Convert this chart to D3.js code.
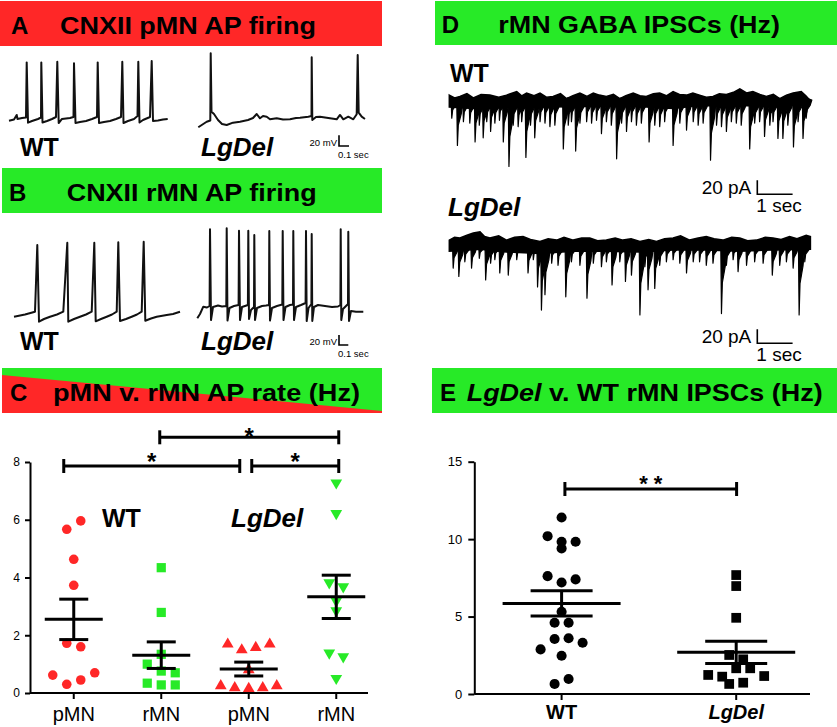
<!DOCTYPE html>
<html>
<head>
<meta charset="utf-8">
<script src="https://cdn.jsdelivr.net/npm/d3@7"></script>
<style>
  body { margin: 0; background: #fff; }
  svg { display: block; font-family: "Liberation Sans", Arial, sans-serif; }
</style>
</head>
<body>
<div id="fig"></div>
<script>
// ---- panel titles
const titleA = "CNXII pMN AP firing"
const titleB = "CNXII rMN AP firing"
const titleC = "pMN v. rMN AP rate (Hz)"
const titleD = "rMN GABA IPSCs (Hz)"
const titleE = " v. WT rMN IPSCs (Hz)"

// ---- A: pMN membrane potential traces [ms, mV]
const aWT = [[0,-60],[50,-57.8],[77,-49.3],[85,-56.8],[130,-55],[170,-54],[177,49],[190,-63.7],[230,-60.6],[290,-56.8],[320,-54],[323,49],[335,-63.4],[380,-60.6],[430,-56.8],[470,-53.1],[483,50.3],[497,-64.3],[530,-56.8],[570,-55.9],[610,-55],[645,-53.1],[650,47.3],[665,-64.3],[710,-62.4],[770,-60.6],[830,-56.8],[880,-53.1],[887,49],[900,-64.3],[950,-62.4],[1010,-60.6],[1070,-56.8],[1120,-53.1],[1133,50.3],[1145,-64.3],[1190,-60.6],[1250,-56.8],[1285,-51.2],[1293,50.3],[1305,-63.4],[1340,-58.7],[1410,-53.1],[1427,51.6],[1440,-60.6],[1490,-59.6],[1540,-57.8],[1587,-56.8]]
const aLgDel = [[0,-72.3],[84,-61.9],[120,-59.6],[124,66],[132,-43.2],[157,-47.5],[197,-58.7],[237,-66.2],[284,-68],[347,-63.7],[417,-61.9],[497,-58.7],[547,-55],[584,-47.5],[617,-55.5],[647,-51.2],[684,-52.5],[717,-57.4],[784,-55.5],[847,-57.8],[917,-57.4],[977,-55],[1017,-54.4],[1100,-52.5],[1132,-51.2],[1134,58.6],[1140,-58.7],[1177,-53.1],[1217,-52.5],[1317,-55.5],[1384,-57.4],[1417,-49.3],[1450,-57.4],[1500,-52.5],[1550,-57.4],[1584,-48],[1594,62.9],[1604,-45],[1634,-52.5],[1667,-56.8]]

// ---- B: rMN membrane potential traces [ms, mV]
const bWT = [[0,-65],[110,-60.6],[210,-55],[233,78.4],[250,-75],[300,-69.6],[360,-65],[430,-60.6],[493,-55],[533,83],[543,-75],[600,-69.6],[660,-65],[720,-60.6],[777,-55],[803,83],[817,-74.2],[870,-69.6],[927,-65],[980,-60.6],[1027,-55],[1043,83.8],[1060,-73.6],[1120,-69.6],[1177,-65],[1230,-60.6],[1277,-55],[1297,85],[1313,-73],[1370,-68.6],[1427,-65],[1527,-61.6],[1590,-59.6],[1660,-55]]
const bLgDel = [[0,-68.2],[27,-59.6],[60,-45],[97,-46.6],[123,-43.6],[127,109.8],[137,-71.6],[157,-45.6],[207,-42.6],[247,-44.6],[290,-43.6],[294,111.8],[302,-72.6],[322,-47.6],[367,-43.6],[413,-41.6],[417,107],[427,-71.6],[447,-45.6],[506,-41.6],[510,107],[517,-69.6],[537,-51.6],[567,-45.6],[570,98.4],[577,-71.6],[597,-47.6],[647,-43.6],[687,-42.6],[717,-41.6],[720,106.4],[727,-72.6],[747,-47.6],[797,-43.6],[850,-40.6],[854,106.4],[862,-71.6],[882,-45.6],[927,-41.6],[957,-40.6],[960,106.4],[967,-71.6],[987,-45.6],[1037,-41.6],[1083,-37.6],[1087,106.4],[1094,-73.6],[1112,-47.6],[1141,-39.6],[1144,100.4],[1150,-73.6],[1167,-45.6],[1207,-41.6],[1277,-43.6],[1347,-45.6],[1407,-44.6],[1431,-41.6],[1434,109.8],[1440,-71.6],[1457,-49.6],[1507,-39.6],[1510,105],[1517,-73.6],[1537,-53.4],[1587,-55],[1660,-55]]

// ---- D: IPSC recordings, noise band envelope [s, pA] and events [s, peak pA]
const dWtTop = [[0,7],[0.15,3],[0.30,5],[0.50,9],[0.68,3],[0.90,8],[1.15,7],[1.40,4],[1.62,7],[1.91,12],[2.05,6],[2.19,10],[2.40,6],[2.57,10],[2.75,4],[2.94,5],[3.15,9],[3.32,2],[3.50,6],[3.70,10],[3.90,5],[4.08,10],[4.25,7],[4.45,5],[4.65,8],[4.83,2],[5.00,6],[5.21,10],[5.40,6],[5.58,5],[5.78,9],[5.96,10],[6.15,6],[6.34,12],[6.52,8],[6.72,7],[6.90,10],[7.09,7],[7.28,4],[7.47,5],[7.65,9],[7.85,8],[8.05,11],[8.23,16],[8.42,10],[8.60,12],[8.80,8],[8.98,5],[9.18,8],[9.36,2],[9.55,7],[9.74,10],[9.97,12],[10.10,6],[10.21,0]]
const dWtBottom = [[0,-10],[0.68,-12],[1.62,-11],[2.57,-9],[3.32,-10],[4.08,-9],[4.83,-8],[5.58,-10],[6.34,-12],[7.09,-8],[7.85,-9],[8.60,-8],[9.36,-9],[10.21,-6]]
const dWtEvents = [[0.07,-26],[0.23,-65],[0.40,-31],[0.58,-33],[0.73,-60],[0.85,-36],[0.96,-54],[1.06,-31],[1.17,-45],[1.29,-33],[1.42,-29],[1.53,-60],[1.69,-95],[1.81,-36],[1.95,-38],[2.05,-31],[2.17,-82],[2.30,-36],[2.42,-54],[2.57,-31],[2.71,-33],[2.85,-38],[2.99,-36],[3.23,-70],[3.37,-36],[3.46,-31],[3.58,-73],[3.70,-33],[3.89,-31],[4.03,-33],[4.17,-29],[4.31,-48],[4.45,-31],[4.59,-36],[4.74,-84],[4.88,-33],[5.02,-45],[5.16,-31],[5.30,-36],[5.44,-33],[5.66,-60],[5.82,-36],[5.96,-38],[6.10,-31],[6.34,-65],[6.53,-33],[6.72,-43],[6.91,-31],[7.05,-36],[7.19,-33],[7.40,-86],[7.57,-36],[7.71,-38],[7.85,-45],[7.99,-31],[8.13,-33],[8.27,-36],[8.51,-70],[8.65,-33],[8.79,-31],[8.93,-52],[9.08,-36],[9.17,-31],[9.31,-55],[9.45,-55],[9.59,-36],[9.75,-67],[9.88,-31],[10.02,-55],[10.11,-26]]
const dLgTop = [[0,7],[0.15,11],[0.30,10],[0.50,14],[0.68,17],[0.87,19],[1.00,12],[1.15,10],[1.40,13],[1.62,7],[1.85,11],[2.09,12],[2.30,8],[2.57,5],[2.80,9],[3.04,7],[3.25,11],[3.51,7],[3.75,10],[3.98,10],[4.20,6],[4.45,7],[4.70,10],[4.92,7],[5.15,9],[5.40,5],[5.65,8],[5.87,5],[6.10,9],[6.34,10],[6.55,13],[6.81,7],[7.05,10],[7.28,12],[7.50,9],[7.75,7],[8.00,11],[8.23,10],[8.45,6],[8.70,7],[8.95,11],[9.17,10],[9.40,8],[9.64,12],[9.85,9],[10.11,14],[10.23,12]]
const dLgBottom = [[0,-9],[0.87,-6],[1.62,-10],[2.57,-12],[3.51,-9],[4.45,-9],[5.40,-10],[6.34,-7],[7.28,-7],[8.23,-9],[9.17,-7],[10.23,-6]]
const dLgEvents = [[0.11,-33],[0.27,-45],[0.44,-24],[0.63,-33],[0.85,-19],[1.03,-50],[1.17,-26],[1.29,-21],[1.43,-40],[1.67,-43],[1.91,-21],[2.23,-40],[2.38,-21],[2.50,-60],[2.61,-93],[2.71,-71],[2.90,-26],[3.08,-29],[3.30,-74],[3.46,-24],[3.70,-29],[3.90,-76],[4.08,-26],[4.31,-31],[4.45,-24],[4.61,-57],[4.83,-24],[4.99,-52],[5.16,-43],[5.40,-100],[5.54,-31],[5.63,-64],[5.82,-62],[5.96,-29],[6.15,-24],[6.34,-21],[6.53,-26],[6.72,-40],[6.91,-24],[7.09,-24],[7.28,-29],[7.47,-26],[7.71,-98],[7.85,-29],[8.04,-21],[8.18,-38],[8.42,-29],[8.65,-24],[8.89,-26],[9.15,-43],[9.36,-29],[9.55,-24],[9.74,-33],[9.91,-100],[10.07,-24]]

// ---- C: AP rate (Hz)
const cLabels = ["pMN", "rMN", "pMN", "rMN"]
const cWtPmn = [5.67, 5.96, 4.63, 3.73, 1.72, 1.60, 0.62, 0.30, 0.45, 0.70]
const cWtRmn = [4.34, 2.79, 1.34, 1.00, 0.76, 0.70, 0.34, 0.28, 0.28]
const cLgPmn = [1.69, 1.49, 1.57, 1.69, 0.80, 0.25, 0.18, 0.15, 0.18, 0.25]
const cLgRmn = [7.28, 6.22, 3.82, 3.68, 2.85, 3.19, 1.39, 1.26, 0.51]
const cMeans = [2.55, 1.31, 0.83, 3.33]
const cSem = [0.70, 0.46, 0.24, 0.75]
const cTicks = [0, 2, 4, 6, 8]

// ---- E: IPSC frequency (Hz)
const eLabels = ["WT", "LgDel"]
const eWT = [11.4, 10.19, 9.83, 9.4, 9.83, 7.61, 7.2, 7.4, 4.6, 4.6, 5.31, 2.88, 3.55, 3.6, 3.31, 2.47, 0.65, 0.97]
const eLgDel = [7.68, 6.97, 4.92, 2.52, 2.24, 1.23, 1.12, 1.66, 1.66, 1.16, 0.65, 0.73]
const eMeans = [5.85, 2.69]
const eSem = [0.81, 0.72]
const eTicks = [0, 5, 10, 15]

const RED = "#ff2727"
const GREEN = "#27ea27"
const FONT = '"Liberation Sans", Arial, sans-serif'

const svg = d3.select("#fig").append("svg")
    .attr("width", 837)
    .attr("height", 727)

// ---------- headers
function header(x, y, w, h, fill, letter, letterX, titleX, titleW, parts) {
    const g = svg.append("g")
    if (fill === "split") {
        g.append("rect").attr("x", x).attr("y", y).attr("width", w).attr("height", h).attr("fill", GREEN)
        g.append("path")
            .attr("d", `M${x},${y + 7} L${x + w},${y + h - 2} L${x + w},${y + h} L${x},${y + h} Z`)
            .attr("fill", RED)
    } else {
        g.append("rect").attr("x", x).attr("y", y).attr("width", w).attr("height", h).attr("fill", fill)
    }
    const base = y + h - 12
    g.append("text").attr("x", letterX).attr("y", base)
        .attr("font-size", 24).attr("font-weight", "bold").text(letter)
    const t = g.append("text").attr("x", titleX).attr("y", base)
        .attr("font-size", 24).attr("font-weight", "bold")
        .attr("textLength", titleW).attr("lengthAdjust", "spacingAndGlyphs")
    parts.forEach(p => {
        t.append("tspan").attr("font-style", p.italic ? "italic" : "normal").text(p.text)
    })
}

header(0, 1, 382, 45, RED, "A", 11, 60, 256, [{ text: titleA }])
header(2, 168, 380, 45, GREEN, "B", 9, 66.7, 250, [{ text: titleB }])
header(2, 368, 380, 45, "split", "C", 10, 53, 307, [{ text: titleC }])
header(435, 1, 402, 44, GREEN, "D", 441.7, 498.3, 281.7, [{ text: titleD }])
header(432, 368, 405, 45, GREEN, "E", 440, 466.7, 356, [{ text: "LgDel", italic: true }, { text: titleE }])

// ---------- labels
function label(x, y, txt, size, italic) {
    svg.append("text").attr("x", x).attr("y", y)
        .attr("font-size", size).attr("font-weight", "bold")
        .attr("font-style", italic ? "italic" : "normal").text(txt)
}
label(20, 156, "WT", 25)
label(201, 156, "LgDel", 26, true)
label(20, 350, "WT", 25)
label(201, 350, "LgDel", 26, true)
label(450, 82, "WT", 25)
label(448, 216, "LgDel", 26, true)
label(102, 527, "WT", 25)
label(231, 527, "LgDel", 26, true)

// ---------- AP traces (A, B)
const lineGen = (xs, ys) => d3.line().x(d => xs(d[0])).y(d => ys(d[1]))

function apTrace(data, ox, oy, xs, ys) {
    svg.append("path")
        .attr("transform", `translate(${ox},${oy})`)
        .attr("d", lineGen(xs, ys)(data))
        .attr("fill", "none").attr("stroke", "#111").attr("stroke-width", 2)
        .attr("stroke-linejoin", "round")
}

function vScaleBar(bx, by, xs, ys, vLen, vUnit, tLen, tUnit, size, gapBelow) {
    const h = Math.abs(ys(0) - ys(vLen))
    const w = xs(tLen) - xs(0)
    svg.append("path")
        .attr("d", `M${bx},${by - h} L${bx},${by} L${bx + w},${by}`)
        .attr("fill", "none").attr("stroke", "#000").attr("stroke-width", 1.6)
    svg.append("text").attr("x", bx - 2).attr("y", by).attr("text-anchor", "end")
        .attr("font-size", size).text(vUnit)
    svg.append("text").attr("x", bx - 1).attr("y", by + gapBelow)
        .attr("font-size", size).text(tUnit)
}

const xA = d3.scaleLinear().domain([0, 1000]).range([0, 100])
const yA = d3.scaleLinear().domain([-60, 40]).range([0, -53.5])
apTrace(aWT, 9, 120.7, xA, yA)
apTrace(aLgDel, 198.3, 120.7, xA, yA)
vScaleBar(339, 146, d3.scaleLinear().domain([0, 1]).range([0, 100]), yA, 20, "20 mV", 0.1, "0.1 sec", 9.5, 11.5)

const xB = d3.scaleLinear().domain([0, 1000]).range([0, 100])
const yB = d3.scaleLinear().domain([-65, 35]).range([0, -50])
apTrace(bWT, 14, 316.7, xB, yB)
apTrace(bLgDel, 197.3, 316.7, xB, yB)
vScaleBar(339, 345, d3.scaleLinear().domain([0, 1]).range([0, 93]), yB, 20, "20 mV", 0.1, "0.1 sec", 9.5, 11.5)

// ---------- IPSC traces (D)
const xD = d3.scaleLinear().domain([0, 10]).range([0, 353])
const yD = d3.scaleLinear().domain([0, -20]).range([0, 14])

function ipscTrace(top, bottom, events, ox, oy) {
    const g = svg.append("g").attr("transform", `translate(${ox},${oy})`)
    const band = top.concat(bottom.slice().reverse())
    g.append("path")
        .attr("d", lineGen(xD, yD)(band) + "Z")
        .attr("fill", "#000").attr("stroke", "#000").attr("stroke-width", 1.5)
        .attr("stroke-linejoin", "miter")
    // each event: fast drop to its peak, then a decaying tail back to the band
    g.selectAll("path.ev").data(events).join("path")
        .attr("class", "ev")
        .attr("d", d => `M${xD(d[0] - 0.02)},${yD(3)} L${xD(d[0])},${yD(d[1])} ` +
            `L${xD(d[0] + 0.025)},${yD(d[1] * 0.55)} L${xD(d[0] + 0.11)},${yD(d[1] * 0.3)} ` +
            `L${xD(d[0] + 0.16)},${yD(0)} Z`)
        .attr("fill", "#000").attr("stroke", "#000").attr("stroke-width", 1.2)
        .attr("stroke-linejoin", "round")
}
ipscTrace(dWtTop, dWtBottom, dWtEvents, 449.3, 100)
ipscTrace(dLgTop, dLgBottom, dLgEvents, 449.3, 245)

function pScaleBar(bx, by) {
    const h = yD(-20) - yD(0)
    const w = xD(1) - xD(0)
    svg.append("path")
        .attr("d", `M${bx},${by - h} L${bx},${by} L${bx + w},${by}`)
        .attr("fill", "none").attr("stroke", "#000").attr("stroke-width", 1.6)
    svg.append("text").attr("x", bx - 6).attr("y", by).attr("text-anchor", "end")
        .attr("font-size", 19).text("20 pA")
    svg.append("text").attr("x", bx - 1).attr("y", by + 17.5)
        .attr("font-size", 19).text("1 sec")
}
pScaleBar(757.3, 194.3)
pScaleBar(757.3, 343.3)

// ---------- scatter helpers
function swarmOffsets(values, ys, spacing) {
    const order = values.map((v, i) => i).sort((a, b) => values[b] - values[a] || a - b)
    const clusters = []
    let cur = null, prevY = 0, firstY = 0
    order.forEach(i => {
        const py = ys(values[i])
        if (!cur || py - prevY > 9 || py - firstY > 12) {
            cur = []
            clusters.push(cur)
            firstY = py
        }
        cur.push(i)
        prevY = py
    })
    const off = new Array(values.length)
    clusters.forEach(c => {
        c.sort((a, b) => a - b)
        c.forEach((i, k) => { off[i] = (k - (c.length - 1) / 2) * spacing })
    })
    return off
}

function drawGroup(g, values, cx, ys, sym, size, color, rotate) {
    const off = swarmOffsets(values, ys, 14)
    g.selectAll(null).data(values).join("path")
        .attr("d", d3.symbol().type(sym).size(size)())
        .attr("transform", (d, i) => `translate(${cx + off[i]},${ys(d)})` + (rotate ? " rotate(180)" : ""))
        .attr("fill", color)
}

function drawMean(g, cx, ys, mean, sem, halfW, capW) {
    const st = l => l.attr("stroke", "#000").attr("stroke-width", 3)
    st(g.append("line").attr("x1", cx - halfW).attr("x2", cx + halfW).attr("y1", ys(mean)).attr("y2", ys(mean)))
    st(g.append("line").attr("x1", cx - capW).attr("x2", cx + capW).attr("y1", ys(mean + sem)).attr("y2", ys(mean + sem)))
    st(g.append("line").attr("x1", cx - capW).attr("x2", cx + capW).attr("y1", ys(mean - sem)).attr("y2", ys(mean - sem)))
    st(g.append("line").attr("x1", cx).attr("x2", cx).attr("y1", ys(mean + sem)).attr("y2", ys(mean - sem)))
}

function sigBar(x1, x2, y, text, size, textY) {
    const st = l => l.attr("stroke", "#000").attr("stroke-width", 3)
    st(svg.append("line").attr("x1", x1).attr("x2", x2).attr("y1", y).attr("y2", y))
    st(svg.append("line").attr("x1", x1).attr("x2", x1).attr("y1", y - 7).attr("y2", y + 7))
    st(svg.append("line").attr("x1", x2).attr("x2", x2).attr("y1", y - 7).attr("y2", y + 7))
    svg.append("text").attr("x", (x1 + x2) / 2).attr("y", textY)
        .attr("text-anchor", "middle").attr("font-size", size).attr("font-weight", "bold").text(text)
}

function styleAxis(g, size) {
    g.selectAll(".domain").attr("stroke", "#000").attr("stroke-width", 2)
    g.selectAll(".tick line").attr("stroke", "#000").attr("stroke-width", 2)
    g.selectAll(".tick text").attr("fill", "#000").attr("font-size", size).attr("font-family", FONT)
}

// ---------- panel C
const xC = d3.scaleBand().domain(d3.range(cLabels.length)).range([30, 380])
const yC = d3.scaleLinear().domain([0, 8]).range([693, 462])
const cxC = i => xC(i) + xC.bandwidth() / 2
const gC = svg.append("g")

drawGroup(gC, cWtPmn, cxC(0), yC, d3.symbolCircle, 72, RED)
drawGroup(gC, cWtRmn, cxC(1), yC, d3.symbolSquare, 85, GREEN)
drawGroup(gC, cLgPmn, cxC(2), yC, d3.symbolTriangle, 60, RED)
drawGroup(gC, cLgRmn, cxC(3), yC, d3.symbolTriangle, 60, GREEN, true)
cMeans.forEach((m, i) => drawMean(gC, cxC(i), yC, m, cSem[i], 29, 14.5))

const cyAxis = svg.append("g").attr("transform", "translate(30,0)")
    .call(d3.axisLeft(yC).tickValues(cTicks).tickSize(5).tickSizeOuter(0).tickPadding(5))
styleAxis(cyAxis, 12)
const cxAxis = svg.append("g").attr("transform", "translate(0,693)")
    .call(d3.axisBottom(xC).tickFormat(i => cLabels[i]).tickSize(6).tickPadding(8))
cxAxis.select(".domain").remove()
styleAxis(cxAxis, 20)
svg.append("line").attr("x1", 30).attr("x2", 368).attr("y1", 693).attr("y2", 693)
    .attr("stroke", "#000").attr("stroke-width", 2)

sigBar(cxC(1) - 1.5, cxC(3) + 2.5, 437.3, "*", 24, 445)
sigBar(cxC(0) - 10, cxC(2) - 9, 466, "*", 24, 470)
sigBar(cxC(2) + 3, cxC(3) + 2.5, 466, "*", 24, 470)

// ---------- panel E
const xE = d3.scaleBand().domain(eLabels).range([474.3, 823.5])
const yE = d3.scaleLinear().domain([0, 15]).range([694, 461.7])
const cxE = k => xE(k) + xE.bandwidth() / 2
const gE = svg.append("g")

drawGroup(gE, eWT, cxE("WT"), yE, d3.symbolCircle, 80, "#000")
drawGroup(gE, eLgDel, cxE("LgDel"), yE, d3.symbolSquare, 95, "#000")
drawMean(gE, cxE("WT"), yE, eMeans[0], eSem[0], 59, 31)
drawMean(gE, cxE("LgDel"), yE, eMeans[1], eSem[1], 59, 31)

const eyAxis = svg.append("g").attr("transform", "translate(474.3,0)")
    .call(d3.axisLeft(yE).tickValues(eTicks).tickSize(6).tickSizeOuter(0).tickPadding(6))
styleAxis(eyAxis, 13)
const exAxis = svg.append("g").attr("transform", "translate(0,694)")
    .call(d3.axisBottom(xE).tickSize(6).tickPadding(5))
exAxis.select(".domain").remove()
styleAxis(exAxis, 20)
exAxis.selectAll(".tick text").attr("font-weight", "bold")
    .attr("font-style", d => d === "LgDel" ? "italic" : "normal")
svg.append("line").attr("x1", 474.3).attr("x2", 810).attr("y1", 694).attr("y2", 694)
    .attr("stroke", "#000").attr("stroke-width", 2)

sigBar(cxE("WT") + 3.3, cxE("LgDel") + 0.4, 489, "* *", 22, 491)
</script>
</body>
</html>
